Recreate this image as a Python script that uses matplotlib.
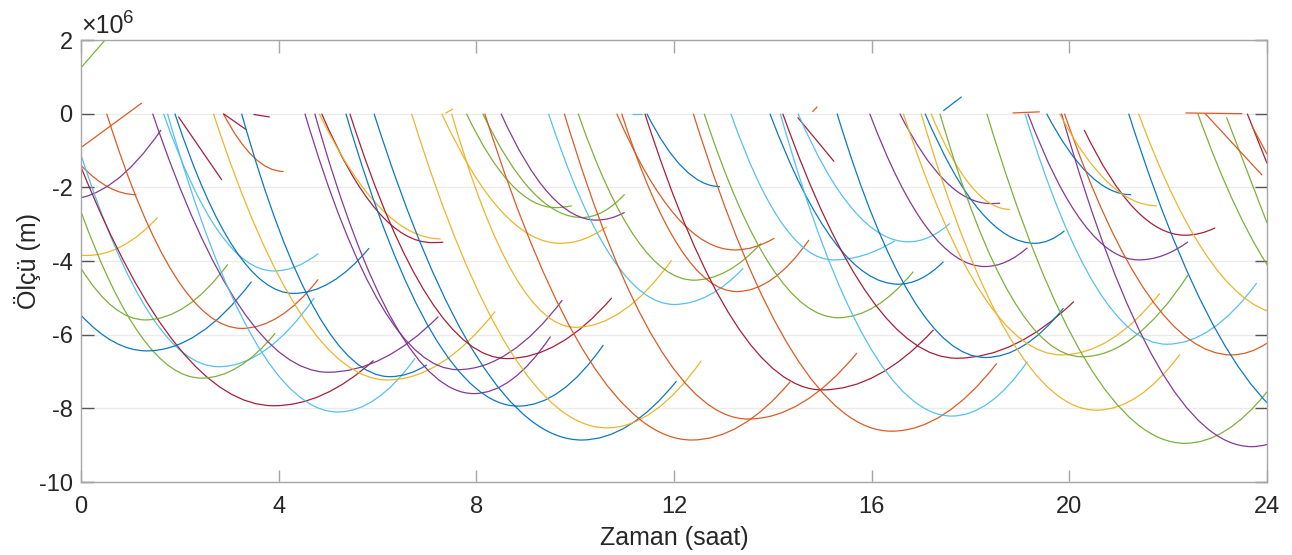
"""
Recreate the range-arc chart: many satellite passes drawn as parabolic arcs
over 24 hours, y in units of 1e6 m.
"""

import numpy as np
import matplotlib

matplotlib.use("Agg")
import matplotlib.pyplot as plt
from matplotlib.path import Path
from matplotlib.patches import PathPatch
from matplotlib.transforms import offset_copy

plt.rcParams["font.family"] = ["Liberation Sans", "DejaVu Sans"]
plt.rcParams["axes.unicode_minus"] = False

# MATLAB default colour order, keyed by a letter per arc
COLORS = {
    "b": "#0072BD", "o": "#D95319", "y": "#EDB120", "p": "#7E2F8E",
    "g": "#77AC30", "c": "#4DBEEE", "r": "#A2142F",
}

# One entry per arc (y in 1e6 m).
# T_VERTEX = nan -> the piece is drawn as a straight segment.
nan = np.nan
ARC_COLOR = [
    "g", "o", "o", "p", "y", "c", "r", "g", "g", "b",
    "o", "p", "c", "c", "b", "r", "y", "o", "r", "r",
    "b", "p", "p", "r", "y", "b", "b", "r", "y", "y",
    "y", "g", "g", "o", "p", "c", "o", "g", "o", "o",
    "r", "b", "c", "o", "g", "c", "b", "c", "r", "r",
    "c", "o", "b", "p", "p", "y", "y", "y", "b", "b",
    "g", "g", "c", "p", "b", "p", "o", "r", "y", "b",
    "y", "g", "g", "o", "r", "o", "y", "o", "o",
]
T_START = [
    0.00, 0.00, 0.00, -0.30, 0.00, 0.00, 0.00, 0.00, 0.00, 0.00,
    0.52, 1.45, 1.67, 1.75, 1.90, 1.97, 2.68, 2.88, 2.88, 3.49,
    3.25, 4.53, 4.73, 4.87, 4.82, 5.36, 5.93, 5.44, 6.69, 7.50,
    7.30, 7.80, 8.13, 8.17, 8.50, 9.46, 9.78, 10.06, 10.84, 10.94,
    11.41, 11.45, 11.15, 12.39, 12.61, 13.15, 13.94, 14.15, 14.20, 14.50,
    14.51, 14.80, 15.30, 15.96, 16.57, 16.64, 17.00, 17.20, 17.08, 17.45,
    17.38, 18.33, 19.10, 19.16, 19.54, 19.84, 19.90, 20.30, 19.80, 21.20,
    21.40, 22.60, 23.18, 22.75, 23.60, 23.70, 7.37, 18.85, 22.35,
]
Y_START = [
    1.25, -0.92, -1.40, -2.33, -3.84, -1.12, -1.45, -2.66, -4.20, -5.47,
    0.00, 0.00, 0.00, 0.00, 0.00, -0.08, 0.00, 0.00, 0.00, -0.02,
    0.00, 0.00, 0.00, 0.00, 0.00, 0.00, 0.00, 0.00, 0.00, 0.00,
    0.00, 0.00, 0.00, 0.00, 0.00, 0.00, 0.00, 0.00, 0.00, 0.00,
    0.00, 0.00, -0.02, 0.00, 0.00, 0.00, 0.00, 0.00, 0.00, -0.10,
    0.00, 0.05, 0.00, 0.00, 0.00, 0.00, 0.00, 0.00, 0.00, 0.08,
    0.00, 0.00, 0.00, 0.00, 0.00, 0.00, 0.00, -0.44, 0.00, 0.00,
    0.00, 0.00, -0.10, 0.00, 0.00, -0.35, 0.01, 0.02, 0.02,
]
T_VERTEX = [
    nan, nan, 1.12, -0.30, 0.12, 2.78, 3.90, 2.44, 1.30, 1.33,
    3.25, 5.00, 3.90, 5.20, 4.30, nan, 6.20, 4.10, nan, nan,
    6.25, 7.62, 7.95, 7.10, 7.28, 8.85, 10.13, 8.62, 10.64, 10.00,
    9.70, 9.60, 10.13, 12.36, 10.43, 12.00, 13.50, 12.40, 13.23, 13.27,
    15.00, 12.93, nan, 16.40, 15.32, 15.22, 16.54, 17.62, 17.72, nan,
    16.74, nan, 18.30, 18.29, 18.40, 19.84, 20.55, 18.80, 19.30, nan,
    20.25, 22.34, 21.97, 21.40, 21.25, 23.69, 23.28, 22.34, 21.77, 25.37,
    24.40, 25.80, nan, nan, nan, nan, nan, nan, nan,
]
Y_VERTEX = [
    nan, nan, -2.20, -2.33, -3.85, -6.87, -7.93, -7.18, -5.60, -6.44,
    -5.83, -7.02, -4.27, -8.10, -4.88, nan, -7.23, -1.57, nan, nan,
    -7.14, -6.95, -7.60, -3.50, -3.40, -7.94, -8.86, -6.65, -8.53, -5.80,
    -3.52, -2.55, -2.82, -8.86, -2.89, -5.18, -8.29, -4.52, -3.70, -4.83,
    -7.50, -1.98, nan, -8.62, -5.54, -3.97, -4.63, -8.21, -6.64, nan,
    -3.48, nan, -6.62, -4.15, -2.44, -6.55, -8.05, -2.60, -3.52, nan,
    -6.60, -8.95, -6.26, -3.97, -2.20, -9.04, -6.55, -3.30, -2.50, -8.80,
    -5.45, -6.00, nan, nan, nan, nan, nan, nan, nan,
]
T_END = [
    0.52, 1.23, 1.12, 1.62, 1.55, 4.72, 5.92, 3.93, 2.97, 3.45,
    4.80, 7.23, 4.80, 6.76, 5.83, 2.85, 8.38, 4.10, 3.35, 3.82,
    7.00, 9.74, 9.50, 7.33, 7.28, 10.57, 12.05, 10.74, 12.55, 11.95,
    10.64, 9.93, 11.00, 14.35, 11.00, 13.40, 15.70, 13.76, 14.03, 14.73,
    17.25, 12.93, 11.35, 18.53, 16.84, 16.47, 17.45, 19.15, 20.09, 15.24,
    17.58, 14.90, 19.88, 19.15, 18.60, 21.83, 22.24, 18.80, 19.90, 17.82,
    22.40, 24.00, 23.79, 22.40, 21.25, 24.00, 24.00, 22.95, 21.77, 25.37,
    24.40, 25.80, 24.00, 23.90, 24.00, 24.00, 7.53, 19.40, 23.50,
]
Y_END = [
    2.05, 0.29, -2.20, -0.44, -2.82, -5.00, -6.70, -5.96, -4.09, -4.56,
    -4.50, -5.51, -3.80, -6.64, -3.65, -1.80, -5.37, -1.57, -0.44, -0.09,
    -6.82, -5.06, -6.05, -3.49, -3.40, -6.28, -7.26, -5.00, -6.71, -3.98,
    -3.07, -2.50, -2.19, -7.28, -2.68, -4.20, -6.50, -3.52, -3.38, -3.43,
    -5.87, -1.98, -0.02, -6.78, -4.29, -3.45, -4.02, -6.73, -5.10, -1.30,
    -2.98, 0.19, -5.28, -3.64, -2.43, -4.88, -6.53, -2.60, -3.18, 0.46,
    -4.38, -7.55, -4.60, -3.48, -2.20, -8.98, -6.23, -3.10, -2.50, -8.80,
    -5.45, -6.00, -2.97, -1.67, -1.35, -1.10, 0.13, 0.05, 0.00,
]

X_TICKS = [0, 4, 8, 12, 16, 20, 24]
Y_TICKS = [2, 0, -2, -4, -6, -8, -10]


def arc_path(ts, ys, tv, yv, te, ye):
    """Parabolic halves as quadratic Beziers (control at tangent crossing)."""
    if np.isnan(tv):
        return Path([(ts, ys), (te, ye)], [Path.MOVETO, Path.LINETO])
    verts = [(ts, ys)]
    codes = [Path.MOVETO]
    if tv > ts:
        verts += [((ts + tv) / 2, yv), (tv, yv)]
        codes += [Path.CURVE3, Path.CURVE3]
    if te > tv:
        verts += [((tv + te) / 2, yv), (te, ye)]
        codes += [Path.CURVE3, Path.CURVE3]
    return Path(verts, codes)


def main() -> None:
    fig = plt.figure(figsize=(12.92, 5.55), dpi=100)
    ax = fig.add_axes([0.0627, 0.1315, 0.918, 0.7964])

    for c, ts, ys, tv, yv, te, ye in zip(ARC_COLOR, T_START, Y_START,
                                         T_VERTEX, Y_VERTEX, T_END, Y_END):
        patch = PathPatch(arc_path(ts, ys, tv, yv, te, ye), fill=False,
                          edgecolor=COLORS[c], lw=0.9, alpha=0.95, zorder=2)
        ax.add_patch(patch)

    ax.set_xlim(0, 24)
    ax.set_ylim(-10, 2)
    ax.set_xticks(X_TICKS)
    ax.set_yticks(Y_TICKS)
    ax.set_yticklabels([str(v) for v in Y_TICKS])

    ax.grid(axis="y", color="#ebebeb", lw=1.0, zorder=0)
    ax.set_axisbelow(True)
    for side in ax.spines.values():
        side.set_color("#a6a6a6")
        side.set_linewidth(1.0)
    ax.tick_params(axis="both", direction="in", length=9, width=1.0,
                   labelsize=17, labelcolor="#262626",
                   top=True, right=True)
    ax.tick_params(axis="x", color="#a6a6a6", pad=10)
    ax.tick_params(axis="y", color="#555555", pad=6)

    # exponent marker above the y axis, MATLAB style
    ax.text(0.0, 1.004, "×10", transform=ax.transAxes,
            fontsize=18, color="#262626", ha="left", va="bottom")
    sup = offset_copy(ax.transAxes, fig=fig, x=30.5, y=8, units="points")
    ax.text(0.0, 1.004, "6", transform=sup,
            fontsize=13.5, color="#262626", ha="left", va="bottom")

    ax.set_xlabel("Zaman (saat)", fontsize=18, color="#262626", labelpad=6)
    ax.set_ylabel("Ölçü (m)", fontsize=18, color="#262626", labelpad=-2)

    fig.savefig("out.png", dpi=100)
    plt.close(fig)


if __name__ == "__main__":
    main()
